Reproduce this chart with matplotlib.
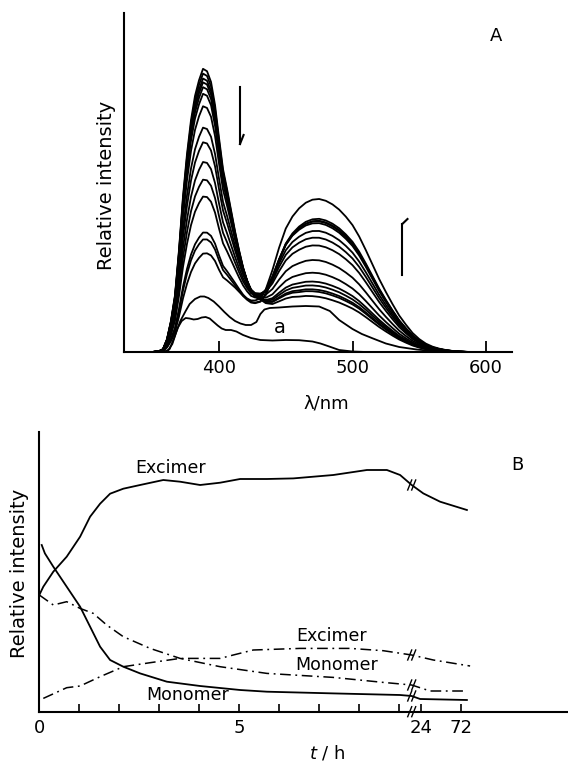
import numpy as np
import matplotlib
matplotlib.use('Agg')
import matplotlib.pyplot as plt

# ---------------- Panel A data (wavelength in nm, intensity in arbitrary units) -------------
lam_profile = [340, 350, 355, 358, 361, 364, 367, 370, 373, 376, 379, 382, 385, 388, 391, 394,
               397, 400, 403, 406, 409, 412, 415, 418, 421, 424, 427, 431, 435, 440, 445, 450,
               455, 460, 465, 470, 475, 480, 485, 490, 495, 500, 505, 510, 515, 520, 525, 530,
               535, 540, 545, 550, 555, 560, 565, 570, 575, 580, 585, 590]
# monomer band shape (relative)
mono_profile = [0, 0, 0.003, 0.01, 0.045, 0.11, 0.20, 0.36, 0.55, 0.70, 0.82, 0.905, 0.96, 1.0,
                0.99, 0.95, 0.865, 0.745, 0.63, 0.555, 0.475, 0.395, 0.325, 0.262, 0.213, 0.172,
                0.15, 0.137, 0.11, 0.08, 0.06, 0.045, 0.035, 0.025, 0.02, 0.015, 0.011, 0.008,
                0.005, 0.003, 0.001, 0, 0, 0, 0, 0, 0, 0, 0, 0, 0, 0, 0, 0, 0, 0, 0, 0, 0, 0]
# excimer band shape (relative)
exc_profile = [0, 0, 0, 0, 0.002, 0.005, 0.01, 0.015, 0.02, 0.025, 0.03, 0.035, 0.038, 0.042,
               0.05, 0.06, 0.075, 0.09, 0.11, 0.135, 0.16, 0.185, 0.2, 0.212, 0.223, 0.235,
               0.248, 0.27, 0.345, 0.49, 0.65, 0.785, 0.87, 0.93, 0.97, 0.993, 1.0, 0.99, 0.968,
               0.935, 0.89, 0.835, 0.76, 0.67, 0.575, 0.48, 0.395, 0.315, 0.24, 0.18, 0.125,
               0.085, 0.055, 0.035, 0.022, 0.013, 0.007, 0.003, 0.001, 0]
# monomer / excimer band heights of the spectral series
mono_amp = [281, 276, 271, 267, 262, 255, 242, 220, 205, 185, 167, 150, 114, 107, 92]
exc_amp = [52, 57, 59, 63, 67, 76, 89, 104, 112, 119, 127, 129, 130, 132, 152]

# early spectrum
lam_b = [358, 362, 365, 368, 371, 375, 378, 382, 386, 389, 392, 396, 400, 404, 408, 412, 416,
         420, 424, 428, 431, 434, 438, 445, 455, 465, 475, 483, 490, 500, 507, 515, 525, 535,
         548, 560, 575]
int_b = [0, 2, 8, 20, 31, 41, 48, 53, 55.5, 55.5, 54, 50.5, 45.5, 40, 35, 31, 28.5, 27, 27, 30,
         38, 42.5, 44, 44.5, 45.5, 46, 45.5, 41, 32, 23, 18, 13.7, 8.5, 5, 2.5, 1, 0]
# curve a
lam_a = [360, 363, 366, 369, 372, 375, 378, 381, 384, 387, 390, 393, 396, 399, 402, 405, 409,
         413, 418, 424, 431, 440, 450, 460, 470, 476, 483, 490, 500, 510]
int_a = [0, 3, 13, 24, 31, 34, 33.5, 32.5, 33, 34.5, 35, 33.5, 30, 26.5, 23.5, 22, 22, 20.5, 17,
         14, 12, 11.5, 12, 11.8, 10.5, 8.5, 5.3, 2, 0.5, 0]

xticks_A = [400, 500, 600]

# ---------------- Panel B data (axis position, relative intensity) ----------------
tick_pos_B = [0, 1, 2, 3, 4, 5, 6, 7, 8, 9, 9.54, 10.54]
tick_lab_B = ['0', '', '', '', '', '5', '', '', '', '', '24', '72']

exc_solid_pos = [0, 0.1, 0.35, 0.685, 1.02, 1.27, 1.52, 1.77, 2.1, 2.52, 3.1, 3.52, 4.02, 4.52,
                 5.02, 5.69, 6.35, 7.35, 8.19, 8.69, 9.02, 9.31, 9.6, 10.02, 10.69]
exc_solid = [116.7, 125, 140, 155, 175, 195, 208, 218, 223, 226.7, 231.7, 230, 226.7, 229,
             232.7, 232.7, 233.3, 236.7, 241.7, 241.7, 236.7, 226.7, 218.3, 210, 201.7]

mon_solid_pos = [0.06, 0.14, 0.35, 0.685, 1.02, 1.27, 1.52, 1.77, 2.1, 2.52, 3.19, 4.02, 5.02,
                 5.69, 7.35, 9.02, 9.31, 9.52, 10.69]
mon_solid = [166.7, 158.3, 145, 125, 105, 85, 65, 51.7, 45, 38.3, 30, 25.7, 21.7, 20, 18.3,
             16.7, 15.7, 12.7, 11.7]

mon_dd_pos = [0, 0.35, 0.685, 1.02, 1.35, 1.685, 2.1, 2.77, 3.52, 4.52, 5.69, 6.35, 7.35, 8.6,
              9.31, 9.77, 10.69]
mon_dd = [116.7, 106.7, 110, 103.3, 98.3, 86.7, 75, 63.3, 53.3, 45, 38.3, 36.7, 34.3, 29.3,
          26.7, 20.7, 20.7]

exc_dd_pos = [0.1, 0.685, 1.02, 1.52, 2.1, 2.77, 3.52, 4.52, 4.85, 5.35, 6.52, 7.77, 8.6, 9.31,
              9.85, 10.77]
exc_dd = [13.3, 24, 25.7, 35, 45, 49, 53.3, 53.3, 56.7, 61.7, 63.3, 63.3, 61, 56.7, 51.7, 45.7]

# ---------------- Figure ----------------
W, H = 568, 764
fig = plt.figure(figsize=(W / 100, H / 100), dpi=100)
plt.rcParams['font.family'] = ['DejaVu Sans']


def fx(px):
    return px / W


def fy(py):
    return 1 - py / H


FS = 13
LW = 1.3

# ---- Panel A ----
axA = fig.add_axes([fx(124), fy(352), (512 - 124) / W, (352 - 13) / H])
axA.set_xlim(328.8, 619.5)
axA.set_ylim(0, 339)
for s in ['top', 'right']:
    axA.spines[s].set_visible(False)
for s in ['left', 'bottom']:
    axA.spines[s].set_linewidth(1.5)
axA.set_yticks([])
axA.set_xticks(xticks_A)
axA.tick_params(axis='x', direction='in', length=8, width=1.3, labelsize=FS, pad=5)

lam = np.array(lam_profile, dtype=float)
Mp = np.array(mono_profile)
Ep = np.array(exc_profile)
for m, e in zip(mono_amp, exc_amp):
    axA.plot(lam, m * Mp + e * Ep, color='k', lw=LW, solid_joinstyle='round')
axA.plot(lam_b, int_b, color='k', lw=LW)
axA.plot(lam_a, int_a, color='k', lw=LW)

# arrows (half-headed)
axA.plot([415.7, 415.7], [265, 208], color='k', lw=1.5)
axA.plot([418.4, 415.7], [217, 208], color='k', lw=1.5)
axA.plot([537.3, 537.3], [77, 128], color='k', lw=1.5)
axA.plot([537.3, 541.2], [128, 133], color='k', lw=1.5)

fig.text(fx(496), fy(36), 'A', ha='center', va='center', fontsize=FS)
fig.text(fx(280), fy(327), 'a', ha='center', va='center', fontsize=FS + 1)
fig.text(fx(326), fy(403), 'λ/nm', ha='center', va='center', fontsize=FS)
fig.text(fx(107), fy(185), 'Relative intensity', rotation=90, ha='center', va='center',
         fontsize=14)

# ---- Panel B ----
axB = fig.add_axes([fx(39.3), fy(711.7), (W - 39.3) / W, 280 / H])
axB.set_xlim(0, (W - 39.3) / 40)
axB.set_ylim(0, 280)
for s in ['top', 'right']:
    axB.spines[s].set_visible(False)
for s in ['left', 'bottom']:
    axB.spines[s].set_linewidth(1.5)
axB.set_yticks([])
axB.set_xticks(tick_pos_B)
axB.set_xticklabels(tick_lab_B)
axB.tick_params(axis='x', direction='in', length=6, width=1.2, labelsize=FS, pad=5)

dd = (0, (7, 3, 1.2, 3))
axB.plot(exc_solid_pos, exc_solid, color='k', lw=LW)
axB.plot(mon_solid_pos, mon_solid, color='k', lw=LW)
axB.plot(mon_dd_pos, mon_dd, color='k', lw=1.1, linestyle=dd)
axB.plot(exc_dd_pos, exc_dd, color='k', lw=1.1, linestyle=dd)


def break_mark(ax, x, y):
    for off in (-0.05, 0.05):
        ax.plot([x + off - 0.05, x + off + 0.05], [y - 5, y + 5], color='k', lw=1.0,
                clip_on=False)


bx = 9.31
for yb in [226.7, 56.7, 26.7, 15.7, 0]:
    break_mark(axB, bx, yb)

fig.text(fx(517), fy(465), 'B', ha='center', va='center', fontsize=FS)
fig.text(fx(171), fy(468), 'Excimer', ha='center', va='center', fontsize=12.5)
fig.text(fx(332), fy(636), 'Excimer', ha='center', va='center', fontsize=12.5)
fig.text(fx(337), fy(665), 'Monomer', ha='center', va='center', fontsize=12.5)
fig.text(fx(188), fy(695), 'Monomer', ha='center', va='center', fontsize=12.5)
fig.text(fx(20), fy(573), 'Relative intensity', rotation=90, ha='center', va='center',
         fontsize=14)
fig.text(fx(327), fy(762), r'$\it{t}$ / h', ha='center', va='bottom', fontsize=FS)

fig.savefig('out.png', dpi=100)
